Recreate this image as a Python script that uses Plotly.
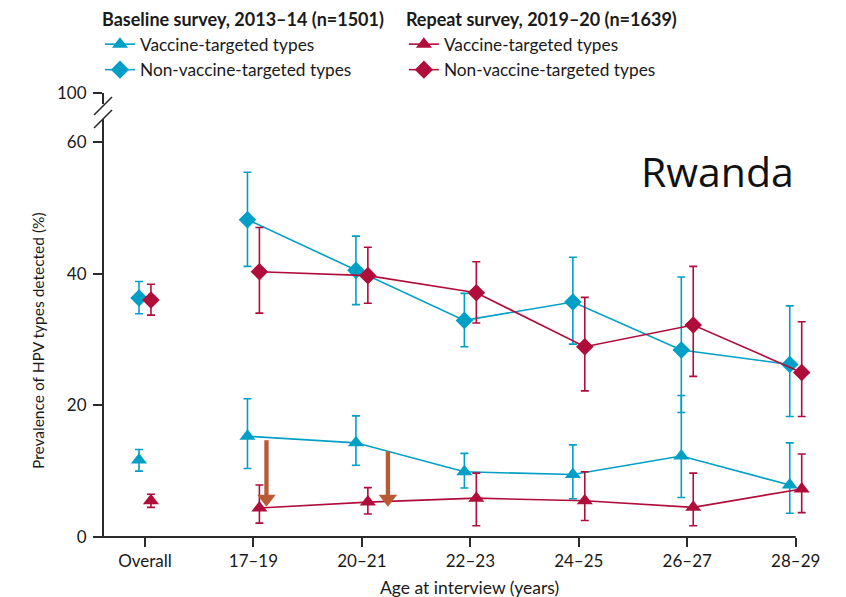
import plotly.graph_objects as go

# ---------------- data ----------------
categories = ["Overall", "17–19", "20–21", "22–23", "24–25", "26–27", "28–29"]
cat_pos = list(range(len(categories)))

base_vacc = [11.7, 15.3, 14.3, 9.9, 9.5, 12.3, 7.9]
base_vacc_lo = [10.0, 10.4, 10.9, 7.45, 5.8, 6.0, 3.6]
base_vacc_hi = [13.3, 21.0, 18.4, 12.7, 14.0, 21.5, 14.3]

base_nonvacc = [36.3, 48.2, 40.5, 32.9, 35.7, 28.4, 26.2]
base_nonvacc_lo = [33.9, 41.1, 35.3, 28.9, 29.3, 18.9, 18.3]
base_nonvacc_hi = [38.8, 55.4, 45.7, 37.0, 42.5, 39.5, 35.1]

rep_vacc = [5.5, 4.4, 5.3, 5.9, 5.5, 4.5, 7.3]
rep_vacc_lo = [4.5, 2.1, 3.5, 1.7, 2.5, 1.7, 3.7]
rep_vacc_hi = [6.5, 7.9, 7.5, 9.7, 9.9, 9.7, 12.6]

rep_nonvacc = [36.0, 40.3, 39.7, 37.1, 28.9, 32.2, 25.0]
rep_nonvacc_lo = [33.7, 34.0, 35.5, 32.5, 22.2, 24.4, 18.3]
rep_nonvacc_hi = [38.4, 47.0, 44.0, 41.8, 36.4, 41.1, 32.7]

# arrows showing the drop in vaccine-targeted types
arrow_x = [1.12, 2.24]
arrow_start = [14.7, 13.0]
arrow_end = [4.6, 4.6]

y_ticks = [0, 20, 40, 60, 67.44]
y_ticklabels = ["0", "20", "40", "60", "100"]

BLUE = "#00A0C6"
RED = "#B00D3B"
ARROW = "#B85A35"
FONT = "Lato"
AXC = "#2b2b2b"

offset = 0.055

# geometry (the page adds an 8px body margin, so reference pixel = figure pixel + 8)
XMIN, XMAX = -0.387, 6.15
UNIT = 108.5
W = (XMAX - XMIN) * UNIT
H = 444.0
ML, MT = 95, 85
MR = 846 - ML - W
MB = 597 - MT - H

fig = go.Figure()


def add_series(vals, lo, hi, dx, color, symbol, msize):
    xs = [p + dx for p in cat_pos]
    plus = [h - v for v, h in zip(vals, hi)]
    minus = [v - l for v, l in zip(vals, lo)]
    err = dict(type="data", symmetric=False, thickness=1.6, width=4, color=color)
    # overall point (no connecting line)
    fig.add_trace(go.Scatter(
        x=xs[:1], y=vals[:1], mode="markers",
        marker=dict(symbol=symbol, size=msize, color=color),
        error_y=dict(array=plus[:1], arrayminus=minus[:1], **err),
        showlegend=False, cliponaxis=False, hoverinfo="skip"))
    # age groups
    fig.add_trace(go.Scatter(
        x=xs[1:], y=vals[1:], mode="lines+markers",
        line=dict(color=color, width=1.6),
        marker=dict(symbol=symbol, size=msize, color=color),
        error_y=dict(array=plus[1:], arrayminus=minus[1:], **err),
        showlegend=False, cliponaxis=False, hoverinfo="skip"))


add_series(base_vacc, base_vacc_lo, base_vacc_hi, -offset, BLUE, "triangle-up", 14)
add_series(base_nonvacc, base_nonvacc_lo, base_nonvacc_hi, -offset, BLUE, "diamond", 13.5)
add_series(rep_vacc, rep_vacc_lo, rep_vacc_hi, offset, RED, "triangle-up", 14)
add_series(rep_nonvacc, rep_nonvacc_lo, rep_nonvacc_hi, offset, RED, "diamond", 13.5)

# legend entries
for name, sym, col, lg in [
    ("Vaccine-targeted types", "triangle-up", BLUE, "legend"),
    ("Non-vaccine-targeted types", "diamond", BLUE, "legend"),
    ("Vaccine-targeted types", "triangle-up", RED, "legend2"),
    ("Non-vaccine-targeted types", "diamond", RED, "legend2"),
]:
    fig.add_trace(go.Scatter(
        x=[None], y=[None], mode="lines+markers", name=name,
        line=dict(color=col, width=1.6),
        marker=dict(symbol=sym, size=14, color=col),
        legend=lg, showlegend=True))

# arrows
px_per_unit = H / 67.44
head_r = 8 / px_per_unit
for ax_, s, e in zip(arrow_x, arrow_start, arrow_end):
    fig.add_trace(go.Scatter(
        x=[ax_, ax_], y=[s, e + head_r], mode="lines",
        line=dict(color=ARROW, width=4.3),
        showlegend=False, hoverinfo="skip", cliponaxis=False))
    fig.add_trace(go.Scatter(
        x=[ax_], y=[e + head_r], mode="markers",
        marker=dict(symbol="triangle-down", size=16, color=ARROW),
        showlegend=False, hoverinfo="skip", cliponaxis=False))


def px(xp):
    return (xp - 103) / W


def py(yp):
    return (537 - yp) / H


shapes = [
    # x axis line ending at the last category
    dict(type="line", xref="x", yref="paper", x0=XMIN, x1=cat_pos[-1], y0=0, y1=0,
         line=dict(color=AXC, width=2)),
    # broken y axis
    dict(type="line", xref="paper", yref="paper", x0=0, x1=0, y0=py(538), y1=py(119),
         line=dict(color=AXC, width=2)),
    dict(type="line", xref="paper", yref="paper", x0=0, x1=0, y0=py(93), y1=py(104),
         line=dict(color=AXC, width=2)),
    dict(type="line", xref="paper", yref="paper", x0=px(94), x1=px(112), y0=py(115), y1=py(97),
         line=dict(color=AXC, width=1.6)),
    dict(type="line", xref="paper", yref="paper", x0=px(94), x1=px(112), y0=py(128), y1=py(110),
         line=dict(color=AXC, width=1.6)),
]

annotations = [
    dict(text="Rwanda", x=px(796), y=py(171), xref="paper", yref="paper",
         xanchor="right", yanchor="middle", showarrow=False,
         font=dict(family="Open Sans", size=41, color="#111")),
    dict(text="Prevalence of HPV types detected (%)", x=px(38), y=py(341),
         xref="paper", yref="paper", xanchor="center", yanchor="middle",
         textangle=-90, showarrow=False, font=dict(size=15.5)),
    dict(text="Age at interview (years)", x=px(470), y=py(587),
         xref="paper", yref="paper", xanchor="center", yanchor="middle",
         showarrow=False, font=dict(size=17.5)),
]

fig.update_layout(
    width=846, height=597,
    margin=dict(l=ML, r=MR, t=MT, b=MB, autoexpand=False),
    paper_bgcolor="white", plot_bgcolor="white",
    font=dict(family=FONT, size=17, color="#1a1a1a"),
    shapes=shapes,
    annotations=annotations,
    showlegend=True,
    legend=dict(
        title=dict(text="<b>Baseline survey, 2013–14 (n=1501)</b>", font=dict(size=18), side="top"),
        x=px(100), y=py(3), xanchor="left", yanchor="top",
        bgcolor="rgba(0,0,0,0)", font=dict(size=17.3), tracegroupgap=0, itemwidth=30),
    legend2=dict(
        title=dict(text="<b>Repeat survey, 2019–20 (n=1639)</b>", font=dict(size=18), side="top"),
        x=px(404), y=py(3), xanchor="left", yanchor="top",
        bgcolor="rgba(0,0,0,0)", font=dict(size=17.3), tracegroupgap=0, itemwidth=30),
)

fig.update_xaxes(
    range=[XMIN, XMAX], tickvals=cat_pos, ticktext=categories,
    showline=False, ticks="outside", ticklen=9,
    tickwidth=2, tickcolor=AXC, showgrid=False, zeroline=False,
    tickfont=dict(size=17))

fig.update_yaxes(
    range=[0, 67.44], tickvals=y_ticks, ticktext=y_ticklabels,
    showline=False, ticks="outside", ticklen=9, tickwidth=2, tickcolor=AXC,
    showgrid=False, zeroline=False, tickfont=dict(size=17), ticklabelstandoff=3)

fig.write_html("out.html")
